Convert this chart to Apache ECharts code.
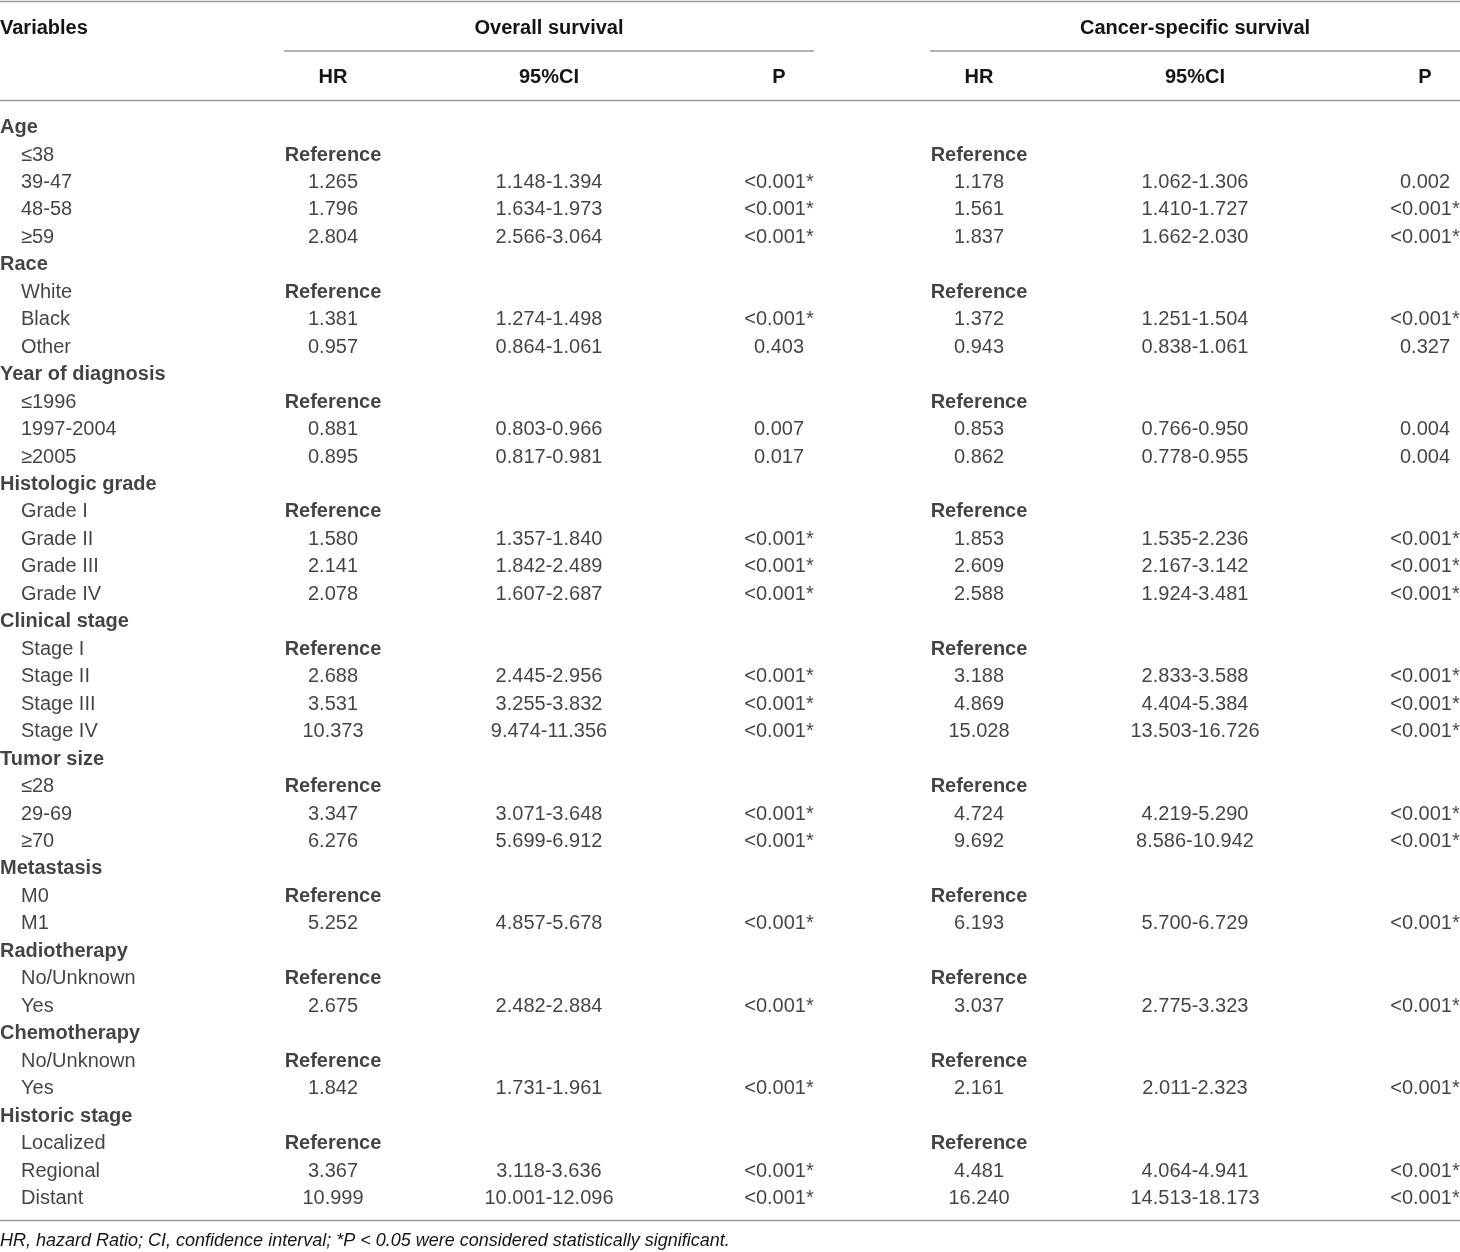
<!DOCTYPE html>
<html lang="en">
<head>
<meta charset="UTF-8">
<title>Cox regression</title>
<script src="https://cdn.jsdelivr.net/npm/echarts@6/dist/echarts.min.js"></script>
<style>
    html, body { margin: 0; padding: 0; background: #fff; }
    #container { width: 1460px; height: 1252px; }
</style>
</head>
<body>
<div id="container"></div>
<script>
    // table content
    var variables = ['Age', '≤38', '39-47', '48-58', '≥59',
        'Race', 'White', 'Black', 'Other',
        'Year of diagnosis', '≤1996', '1997-2004', '≥2005',
        'Histologic grade', 'Grade I', 'Grade II', 'Grade III', 'Grade IV',
        'Clinical stage', 'Stage I', 'Stage II', 'Stage III', 'Stage IV',
        'Tumor size', '≤28', '29-69', '≥70',
        'Metastasis', 'M0', 'M1',
        'Radiotherapy', 'No/Unknown', 'Yes',
        'Chemotherapy', 'No/Unknown', 'Yes',
        'Historic stage', 'Localized', 'Regional', 'Distant'];
    var groupRows = [0, 5, 9, 13, 18, 23, 27, 30, 33, 36];

    var osHR = ['', 'Reference', '1.265', '1.796', '2.804',
        '', 'Reference', '1.381', '0.957',
        '', 'Reference', '0.881', '0.895',
        '', 'Reference', '1.580', '2.141', '2.078',
        '', 'Reference', '2.688', '3.531', '10.373',
        '', 'Reference', '3.347', '6.276',
        '', 'Reference', '5.252',
        '', 'Reference', '2.675',
        '', 'Reference', '1.842',
        '', 'Reference', '3.367', '10.999'];
    var osCI = ['', '', '1.148-1.394', '1.634-1.973', '2.566-3.064',
        '', '', '1.274-1.498', '0.864-1.061',
        '', '', '0.803-0.966', '0.817-0.981',
        '', '', '1.357-1.840', '1.842-2.489', '1.607-2.687',
        '', '', '2.445-2.956', '3.255-3.832', '9.474-11.356',
        '', '', '3.071-3.648', '5.699-6.912',
        '', '', '4.857-5.678',
        '', '', '2.482-2.884',
        '', '', '1.731-1.961',
        '', '', '3.118-3.636', '10.001-12.096'];
    var osP = ['', '', '<0.001*', '<0.001*', '<0.001*',
        '', '', '<0.001*', '0.403',
        '', '', '0.007', '0.017',
        '', '', '<0.001*', '<0.001*', '<0.001*',
        '', '', '<0.001*', '<0.001*', '<0.001*',
        '', '', '<0.001*', '<0.001*',
        '', '', '<0.001*',
        '', '', '<0.001*',
        '', '', '<0.001*',
        '', '', '<0.001*', '<0.001*'];
    var cssHR = ['', 'Reference', '1.178', '1.561', '1.837',
        '', 'Reference', '1.372', '0.943',
        '', 'Reference', '0.853', '0.862',
        '', 'Reference', '1.853', '2.609', '2.588',
        '', 'Reference', '3.188', '4.869', '15.028',
        '', 'Reference', '4.724', '9.692',
        '', 'Reference', '6.193',
        '', 'Reference', '3.037',
        '', 'Reference', '2.161',
        '', 'Reference', '4.481', '16.240'];
    var cssCI = ['', '', '1.062-1.306', '1.410-1.727', '1.662-2.030',
        '', '', '1.251-1.504', '0.838-1.061',
        '', '', '0.766-0.950', '0.778-0.955',
        '', '', '1.535-2.236', '2.167-3.142', '1.924-3.481',
        '', '', '2.833-3.588', '4.404-5.384', '13.503-16.726',
        '', '', '4.219-5.290', '8.586-10.942',
        '', '', '5.700-6.729',
        '', '', '2.775-3.323',
        '', '', '2.011-2.323',
        '', '', '4.064-4.941', '14.513-18.173'];
    var cssP = ['', '', '0.002', '<0.001*', '<0.001*',
        '', '', '<0.001*', '0.327',
        '', '', '0.004', '0.004',
        '', '', '<0.001*', '<0.001*', '<0.001*',
        '', '', '<0.001*', '<0.001*', '<0.001*',
        '', '', '<0.001*', '<0.001*',
        '', '', '<0.001*',
        '', '', '<0.001*',
        '', '', '<0.001*',
        '', '', '<0.001*', '<0.001*'];

    var subHeaders = ['HR', '95%CI', 'P', 'HR', '95%CI', 'P'];
    var footnote = 'HR, hazard Ratio; CI, confidence interval; *P < 0.05 were considered statistically significant.';

    // layout
    var font = '"Liberation Sans", Arial, Helvetica, sans-serif';
    var ink = '#141414';
    var rule = '#9a9a9a';
    var colX = [333, 549, 779, 979, 1195, 1425];
    var rowTop = 113.8, rowH = 27.46;

    function cellSeries(texts, x) {
        var data = [];
        texts.forEach(function (t, i) {
            if (t === '') return;
            data.push({
                value: [x, i],
                label: { formatter: t, fontWeight: t === 'Reference' ? 'bold' : 'normal' }
            });
        });
        return {
            type: 'scatter',
            symbolSize: 0,
            silent: true,
            data: data,
            label: {
                show: true,
                position: 'inside',
                align: 'center',
                verticalAlign: 'middle',
                fontFamily: font,
                fontSize: 20,
                color: ink
            }
        };
    }

    var varData = variables.map(function (v, i) {
        var isGroup = groupRows.indexOf(i) >= 0;
        return {
            value: [isGroup ? 0 : 21, i],
            label: { formatter: v, fontWeight: isGroup ? 'bold' : 'normal' }
        };
    });

    var series = [{
        type: 'scatter',
        symbolSize: 0,
        silent: true,
        data: varData,
        label: {
            show: true,
            position: 'inside',
            align: 'left',
            verticalAlign: 'middle',
            fontFamily: font,
            fontSize: 20,
            color: ink
        }
    }];
    [osHR, osCI, osP, cssHR, cssCI, cssP].forEach(function (col, c) {
        series.push(cellSeries(col, colX[c]));
    });

    function hline(x1, x2, y) {
        return { type: 'line', shape: { x1: x1, y1: y, x2: x2, y2: y }, style: { stroke: rule, lineWidth: 1.5 }, silent: true };
    }
    function headText(txt, x, y, align) {
        return { type: 'text', x: x, y: y, silent: true,
            style: { text: txt, font: 'bold 20px ' + font, fill: ink, align: align, verticalAlign: 'middle' } };
    }

    var graphics = [
        hline(0, 1460, 1.5),
        hline(284, 814, 51),
        hline(930, 1460, 51),
        hline(0, 1460, 100.5),
        hline(0, 1460, 1220.5),
        headText('Variables', 0, 28, 'left'),
        headText('Overall survival', 549, 28, 'center'),
        headText('Cancer-specific survival', 1195, 28, 'center'),
        { type: 'text', x: 0, y: 1241, silent: true,
            style: { text: footnote, font: 'italic 18px ' + font, fill: ink, align: 'left', verticalAlign: 'middle' } }
    ];
    subHeaders.forEach(function (h, c) {
        graphics.push(headText(h, colX[c], 77, 'center'));
    });

    var myChart = echarts.init(document.getElementById('container'));
    var option = {
        backgroundColor: '#fff',
        animation: false,
        grid: { left: 0, right: 0, top: rowTop, height: rowH * variables.length },
        xAxis: { type: 'value', min: 0, max: 1460, show: false },
        yAxis: { type: 'value', min: -0.5, max: variables.length - 0.5, inverse: true, show: false },
        graphic: graphics,
        series: series
    };
    myChart.setOption(option);
</script>
</body>
</html>
